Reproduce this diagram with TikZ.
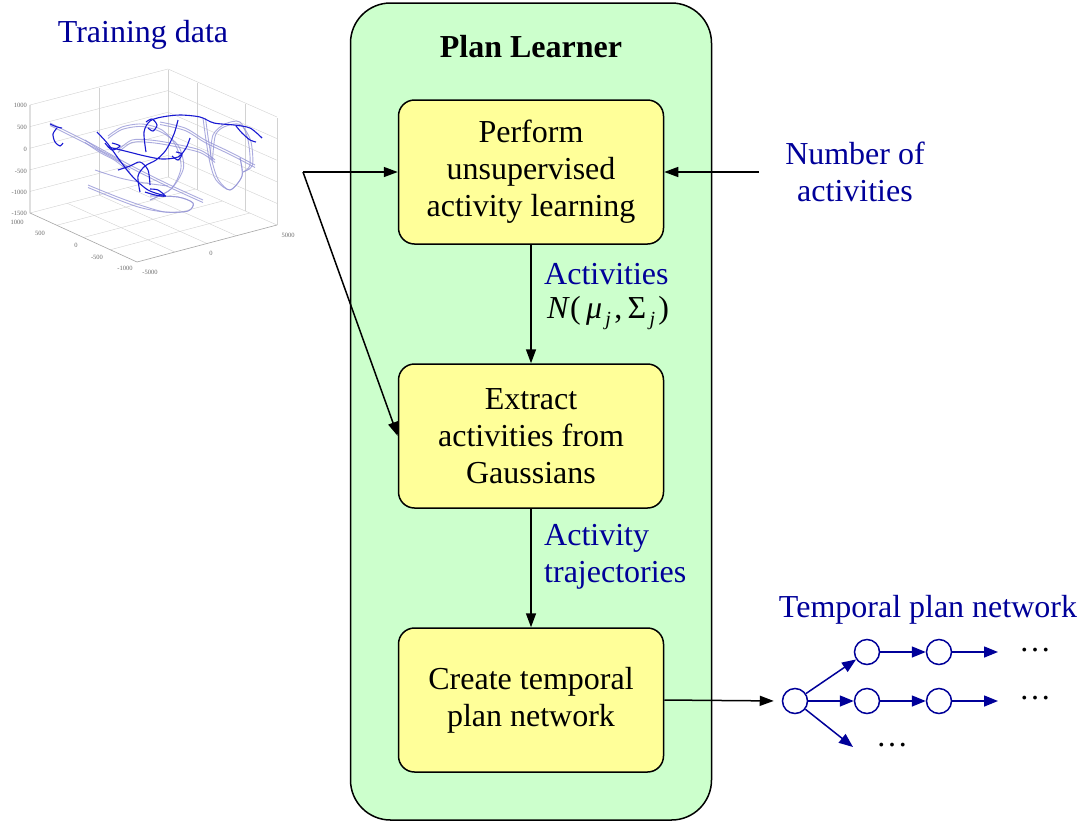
\documentclass[tikz,border=0pt]{standalone}
\usepackage{fontspec}
\setmainfont{Liberation Serif}
\usetikzlibrary{arrows.meta,calc}
\definecolor{navy}{RGB}{0,0,153}
\definecolor{greenfill}{RGB}{204,255,204}
\definecolor{yellowfill}{RGB}{255,255,153}
\definecolor{plotblue}{RGB}{25,25,210}
\definecolor{plotlight}{RGB}{150,150,215}
\newcommand{\subj}{\raisebox{-7pt}{\fontsize{20}{20}\selectfont\itshape\,j\,}}
\begin{document}
\begin{tikzpicture}[x=1pt,y=-1pt,
  txt/.style={font=\fontsize{32}{37}\selectfont, align=center},
  stagebox/.style={draw, line width=1.5pt, fill=yellowfill, rounded corners=16pt,
    minimum width=265pt, minimum height=144pt, txt},
  flow/.style={-{Triangle[length=14pt,width=10pt]}, line width=1.5pt},
  net/.style={draw=navy, line width=1.5pt, -{Triangle[length=14pt,width=11pt]}},
  circ/.style={circle, draw=navy, line width=1.5pt, fill=white, minimum size=25pt, inner sep=0pt},
  tick/.style={font=\fontsize{6.5}{7}\selectfont, text=gray!85!black, inner sep=1pt},
  grid/.style={draw=gray!35, line width=0.4pt},
  dark/.style={draw=plotblue, line width=1.1pt},
  light/.style={draw=plotlight, line width=0.9pt, opacity=0.8}]
\useasboundingbox (0,0) rectangle (1085,823);
\fill[white] (0,0) rectangle (1085,823);

% ---------- training data plot ----------
\node[txt, text=navy] (train) at (143,35) {Training data};
\coordinate (L) at (30,213);
\coordinate (K) at (168,177);
\coordinate (R) at (277,225);
\coordinate (B) at (137,262);
\coordinate (Lt) at (30,105);
\coordinate (Kt) at (168,70);
\coordinate (Rt) at (277,118);
\foreach \h in {0,21.6,43.2,64.8,86.4,108}{
  \draw[grid] ($(L)+(0,-\h)$) -- ($(K)+(0,-\h)$) -- ($(R)+(0,-\h)$);
}
\draw[grid] ($(L)!0.5!(K)$) -- ($(Lt)!0.5!(Kt)$);
\foreach \t in {0.27,0.71}{
  \draw[grid] ($(K)!\t!(R)$) -- ($(Kt)!\t!(Rt)$);
}
\draw[grid] (K) -- (Kt);
\draw[grid] (R) -- (Rt);
\foreach \t in {0.27,0.5,0.71}{
  \draw[grid] ($(B)!\t!(R)$) -- ($(L)!\t!(K)$);
}
\foreach \t in {0.25,0.5,0.75}{
  \draw[grid] ($(L)!\t!(B)$) -- ($(K)!\t!(R)$);
}
\draw[draw=gray!70, line width=0.6pt] (Lt) -- (L) -- (B) -- (R);
\node[tick, anchor=east] (z1) at (28,105) {1000};
\node[tick, anchor=east] (z2) at (28,127) {500};
\node[tick, anchor=east] (z3) at (28,149) {0};
\node[tick, anchor=east] (z4) at (28,171) {-500};
\node[tick, anchor=east] (z5) at (28,192) {-1000};
\node[tick, anchor=east] (z6) at (28,213) {-1500};
\node[tick] (y1) at (17,222) {1000};
\node[tick] (y2) at (40,233) {500};
\node[tick] (y3) at (76,245) {0};
\node[tick] (y4) at (97,257) {-500};
\node[tick] (y5) at (125,268) {-1000};
\node[tick] (x1) at (150,272) {-5000};
\node[tick] (x2) at (211,253) {0};
\node[tick] (x3) at (288,235) {5000};
% trajectories (light bundles)
\foreach \d in {0,2.5}{
\draw[light] plot[smooth] coordinates {(50,123+\d) (90,143+\d) (130,165+\d) (170,185+\d) (203,200+\d)};
\draw[light] plot[smooth] coordinates {(88,185+\d) (115,196+\d) (140,205+\d) (165,212) (188,211) (193,203) (178,197) (150,196)};
\draw[light] plot[smooth] coordinates {(203+\d,118) (206+\d,140) (210+\d,163) (216+\d,180) (230,190) (242,176) (240,158)};
\draw[light] plot[smooth] coordinates {(108,136+\d) (122,127+\d) (142,124+\d) (162,130+\d) (176+\d,146) (181+\d,168) (171,189) (150,200)};
\draw[light] plot[smooth] coordinates {(118,150+\d) (132,140+\d) (150,140+\d) (170,143+\d) (200,150+\d) (215,160+\d)};
\draw[light] plot[smooth] coordinates {(210+\d,160) (213+\d,135) (225,124+\d) (240,122+\d) (248+\d,140) (250+\d,165) (243,172)};
\draw[light] plot[smooth] coordinates {(85,140+\d) (100,150+\d) (115,158+\d) (130,170+\d)};
\draw[light] plot[smooth] coordinates {(160,122+\d) (185,128+\d) (205,140+\d) (230,152+\d) (255,165+\d)};
}
\draw[light] plot[smooth] coordinates {(95,170) (120,178) (145,183) (168,186)};
% trajectories (dark)
\draw[dark] plot[smooth] coordinates {(50,124) (57,127) (62,128)};
\draw[dark] plot[smooth] coordinates {(57,128) (53,134) (55,142) (60,146) (63,143)};
\draw[dark] plot[smooth] coordinates {(97,132) (108,144) (118,158) (132,176) (148,190) (166,196)};
\draw[dark] plot[smooth] coordinates {(108,147) (125,151) (145,156) (162,159) (178,157) (186,148) (190,138)};
\draw[dark] plot[smooth] coordinates {(140,192) (138,176) (145,166) (156,160) (166,150) (174,134) (178,120)};
\draw[dark] plot[smooth] coordinates {(146,152) (144,132) (150,121) (162,117) (180,115) (200,117) (214,123) (234,125) (250,128) (262,138)};
\draw[dark] plot[smooth] coordinates {(146,122) (152,119) (157,125) (153,131) (148,128)};
\draw[dark] plot[smooth] coordinates {(236,126) (242,133) (250,140) (256,142)};
\draw[dark] plot[smooth] coordinates {(118,170) (130,166) (140,162) (148,170) (150,185)};
\draw[dark] plot[smooth] coordinates {(105,143) (112,150) (120,146) (112,143)};
\draw[dark] plot[smooth] coordinates {(172,156) (178,160) (182,154) (176,152)};
\draw[dark] plot[smooth] coordinates {(145,192) (155,195) (165,196) (158,190) (150,189)};

% ---------- Plan Learner ----------
\node[draw, line width=1.5pt, fill=greenfill, rounded corners=40pt,
  minimum width=361pt, minimum height=817pt] (outer) at (531,411.5) {};
\node[font=\fontsize{32}{37}\selectfont\bfseries] (title) at (531,47) {Plan Learner};
\node[stagebox] (s1) at (531,172) {Perform\\unsupervised\\activity learning};
\node[stagebox] (s2) at (531,436) {Extract\\activities from\\Gaussians};
\node[stagebox] (s3) at (531,700) {Create temporal\\plan network};
\draw[flow] (s1) -- (s2);
\draw[flow] (s2) -- (s3);
\node[txt, text=navy, anchor=west, inner sep=0pt] (lab1) at (544,274) {Activities};
\node[txt, anchor=west, inner sep=0pt] (lab1m) at (547,313) {\textit{N}(\,\textit{μ}\subj,\,Σ\subj)};
\node[txt, text=navy, anchor=west, align=left, inner sep=0pt] (lab2) at (544,557) {Activity\\trajectories};

% inputs
\coordinate (split) at (303,172);
\draw[flow] (split) -- (s1.west);
\draw[flow] (split) -- (s2.west);
\node[txt, text=navy] (nact) at (855,172) {Number of\\activities};
\coordinate (nin) at (759,172);
\draw[flow] (nin) -- (s1.east);

% ---------- temporal plan network ----------
\node[txt, text=navy] (tpn) at (928,610) {Temporal plan network};
\node[circ] (c0) at (795,701) {};
\node[circ] (c1) at (867,652) {};
\node[circ] (c2) at (939,652) {};
\node[circ] (c3) at (867,701) {};
\node[circ] (c4) at (939,701) {};
\coordinate (e2) at (998,652);
\coordinate (e4) at (998,701);
\coordinate (e0) at (853,747);
\draw[flow, shorten >=8pt] (s3.east) -- (c0.west);
\draw[net] (c0) -- (c1);
\draw[net] (c0) -- (c3);
\draw[net] (c1) -- (c2);
\draw[net] (c3) -- (c4);
\draw[net] (c2) -- (e2);
\draw[net] (c4) -- (e4);
\draw[net] (c0) -- (e0);
\node[txt] (d1) at (1035,650) {\dots};
\node[txt] (d2) at (1035,698) {\dots};
\node[txt] (d3) at (892,745) {\dots};
\end{tikzpicture}
\end{document}
